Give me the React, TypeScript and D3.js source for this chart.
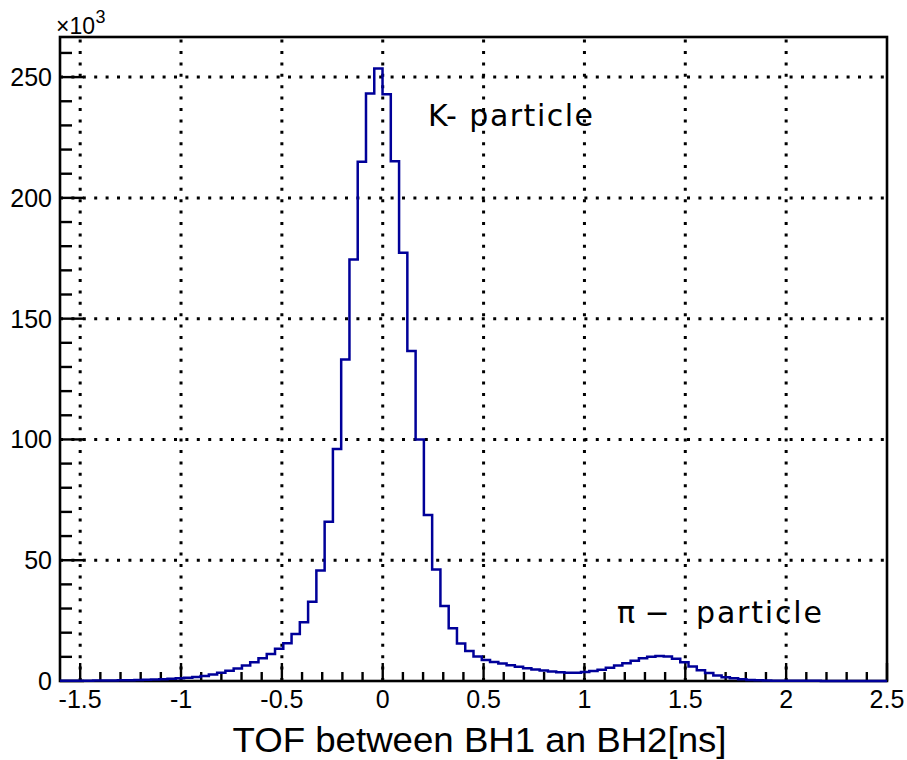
import React from "react";
import * as d3 from "d3";

// Histogram binning: 100 bins from -1.6 to 2.5 ns
const xMin = -1.6;
const xMax = 2.5;
const nBins = 100;

// Bin contents (×10^3 counts)
const binCounts: number[] = [
  0.1, 0.1, 0.12, 0.15, 0.18, 0.2, 0.25, 0.3, 0.35, 0.42,
  0.5, 0.6, 0.75, 0.9, 1.1, 1.35, 1.7, 2.1, 2.7, 3.4,
  4.2, 5.2, 6.4, 7.8, 9.4, 11.2, 13.3, 15.6, 19.5, 24.3,
  32.8, 45.7, 65.9, 96.0, 133.1, 174.5, 215.0, 243.2, 253.6, 242.9,
  215.2, 177.3, 136.6, 100.0, 68.7, 46.2, 31.0, 21.8, 15.5, 12.4,
  10.1, 8.7, 7.9, 7.2, 6.5, 5.9, 5.3, 4.8, 4.3, 3.9,
  3.6, 3.4, 3.4, 3.7, 4.1, 4.7, 5.5, 6.4, 7.3, 8.4,
  9.4, 10.0, 10.3, 10.1, 9.2, 7.8, 6.0, 4.5, 3.3, 2.3,
  1.6, 1.1, 0.7, 0.45, 0.3, 0.2, 0.15, 0.12, 0.1, 0.08,
  0.07, 0.06, 0.05, 0.05, 0.04, 0.04, 0.03, 0.03, 0.03, 0.02,
];

const xMajorTicks: number[] = [-1.5, -1, -0.5, 0, 0.5, 1, 1.5, 2, 2.5];
const xTickLabels: string[] = ["-1.5", "-1", "-0.5", "0", "0.5", "1", "1.5", "2", "2.5"];
const yMajorTicks: number[] = [0, 50, 100, 150, 200, 250];
const yTickLabels: string[] = ["0", "50", "100", "150", "200", "250"];
const yMax = 266.6;

const xTitle = "TOF between BH1 an BH2[ns]";
const kLabel = "K- particle";
const piLabelA = "π −";
const piLabelB = "particle";

const W = 907;
const H = 760;
const L = 60, R = 887, T = 37, B = 681;

export default function App() {
  const x = d3.scaleLinear().domain([xMin, xMax]).range([L, R]);
  const y = d3.scaleLinear().domain([0, yMax]).range([B, T]);
  const bw = (xMax - xMin) / nBins;

  const pts: [number, number][] = binCounts.map((c, i) => [xMin + i * bw, c]);
  pts.push([xMax, binCounts[binCounts.length - 1]]);
  const line = d3
    .line<[number, number]>()
    .x((d) => x(d[0]))
    .y((d) => y(d[1]))
    .curve(d3.curveStepAfter);

  const xMinor: number[] = d3.range(-15, 26).map((k) => k / 10).filter((v) => !xMajorTicks.some((m) => Math.abs(m - v) < 1e-6));
  const yMinor: number[] = d3.range(0, 270, 10).filter((v) => v % 50 !== 0 && v <= yMax);

  const dot = { stroke: "#000", strokeWidth: 3, strokeDasharray: "3 8.4", fill: "none" } as const;
  const tickFont = { fontFamily: "'Liberation Sans', Arial, sans-serif", fontSize: 25, fill: "#000" } as const;

  return (
    <svg width={W} height={H} style={{ position: "absolute", left: 0, top: 0, display: "block", background: "#fff" }}>
      <rect x={0} y={0} width={W} height={H} fill="#fff" />
      {/* grid */}
      {xMajorTicks.filter((v) => v < xMax).map((v, i) => (
        <line key={"gx" + i} x1={x(v)} x2={x(v)} y1={B} y2={T} style={dot} />
      ))}
      {yMajorTicks.filter((v) => v > 0).map((v, i) => (
        <line key={"gy" + i} x1={L} x2={R} y1={y(v)} y2={y(v)} style={dot} />
      ))}
      {/* frame */}
      <rect x={L} y={T} width={R - L} height={B - T} fill="none" stroke="#000" strokeWidth={2.6} />
      {/* x ticks */}
      {xMajorTicks.map((v, i) => (
        <line key={"xt" + i} x1={x(v)} x2={x(v)} y1={B} y2={B - 18} stroke="#000" strokeWidth={2.4} />
      ))}
      {xMinor.map((v, i) => (
        <line key={"xm" + i} x1={x(v)} x2={x(v)} y1={B} y2={B - 9} stroke="#000" strokeWidth={2.4} />
      ))}
      {/* y ticks */}
      {yMajorTicks.map((v, i) => (
        <line key={"yt" + i} x1={L} x2={L + 24} y1={y(v)} y2={y(v)} stroke="#000" strokeWidth={2.4} />
      ))}
      {yMinor.map((v, i) => (
        <line key={"ym" + i} x1={L} x2={L + 12} y1={y(v)} y2={y(v)} stroke="#000" strokeWidth={2.4} />
      ))}
      {/* tick labels */}
      {xMajorTicks.map((v, i) => (
        <text key={"xl" + i} x={x(v)} y={707.5} textAnchor="middle" style={tickFont}>
          {xTickLabels[i]}
        </text>
      ))}
      {yMajorTicks.map((v, i) => (
        <text key={"yl" + i} x={52} y={y(v) + 9} textAnchor="end" style={tickFont}>
          {yTickLabels[i]}
        </text>
      ))}
      {/* exponent */}
      <text x={56} y={33.5} style={{ fontFamily: "'Liberation Sans', Arial, sans-serif", fontSize: 23, fill: "#000" }}>
        ×10
      </text>
      <text x={95.5} y={22.7} style={{ fontFamily: "'Liberation Sans', Arial, sans-serif", fontSize: 18, fill: "#000" }}>
        3
      </text>
      {/* axis title */}
      <text x={479.5} y={752} textAnchor="middle" textLength={494} lengthAdjust="spacingAndGlyphs" style={{ fontFamily: "'Liberation Sans', Arial, sans-serif", fontSize: 35, fill: "#000" }}>
        {xTitle}
      </text>
      {/* annotations */}
      <text x={428} y={126} textLength={165} lengthAdjust="spacing" style={{ fontFamily: "'DejaVu Sans', sans-serif", fontSize: 30, fill: "#000" }}>
        {kLabel}
      </text>
      <text x={617} y={623} style={{ fontFamily: "'DejaVu Sans', sans-serif", fontSize: 30, fill: "#000" }}>
        {piLabelA}
      </text>
      <text x={696} y={623} textLength={126} lengthAdjust="spacing" style={{ fontFamily: "'DejaVu Sans', sans-serif", fontSize: 30, fill: "#000" }}>
        {piLabelB}
      </text>
      {/* histogram */}
      <path d={line(pts) || ""} fill="none" stroke="#000099" strokeWidth={2.5} strokeLinejoin="miter" />
    </svg>
  );
}
